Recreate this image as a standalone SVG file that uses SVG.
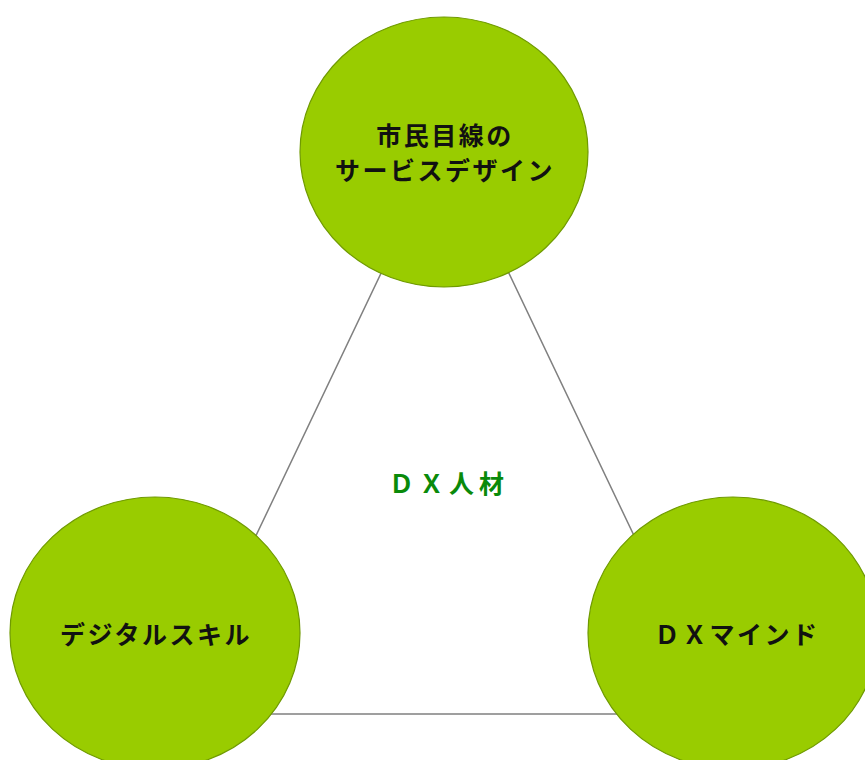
<svg xmlns="http://www.w3.org/2000/svg" width="865" height="760" viewBox="0 0 865 760">
<style>
.node{fill:#99CC00;stroke:#6F9A00;stroke-width:1.2}
.lbl{font-family:"Noto Sans CJK JP","Noto Sans",sans-serif;font-weight:bold;font-size:25px;fill:#111;text-anchor:middle;letter-spacing:2.5px}
.ctr{font-family:"Noto Sans CJK JP","Noto Sans",sans-serif;font-weight:bold;font-size:25px;fill:#0A8A0A;text-anchor:middle;letter-spacing:5px}
</style>
<rect width="865" height="760" fill="#fff"/>
<g id="connectors" fill="none" stroke="#808080" stroke-width="1.5">
<polygon points="445,139 171,714 719,714"/>
</g>
<text class="ctr" x="449" y="493">ＤＸ人材</text>
<g id="node-top">
<ellipse class="node" cx="444" cy="152" rx="144" ry="135"/>
<text class="lbl" x="445" y="145">市民目線の</text>
<text class="lbl" x="445" y="180">サービスデザイン</text>
</g>
<g id="node-left">
<ellipse class="node" cx="155" cy="633" rx="145" ry="136"/>
<text class="lbl" x="156" y="644">デジタルスキル</text>
</g>
<g id="node-right">
<ellipse class="node" cx="733" cy="633" rx="145" ry="136"/>
<text class="lbl" x="737" y="644">ＤＸマインド</text>
</g>
</svg>
